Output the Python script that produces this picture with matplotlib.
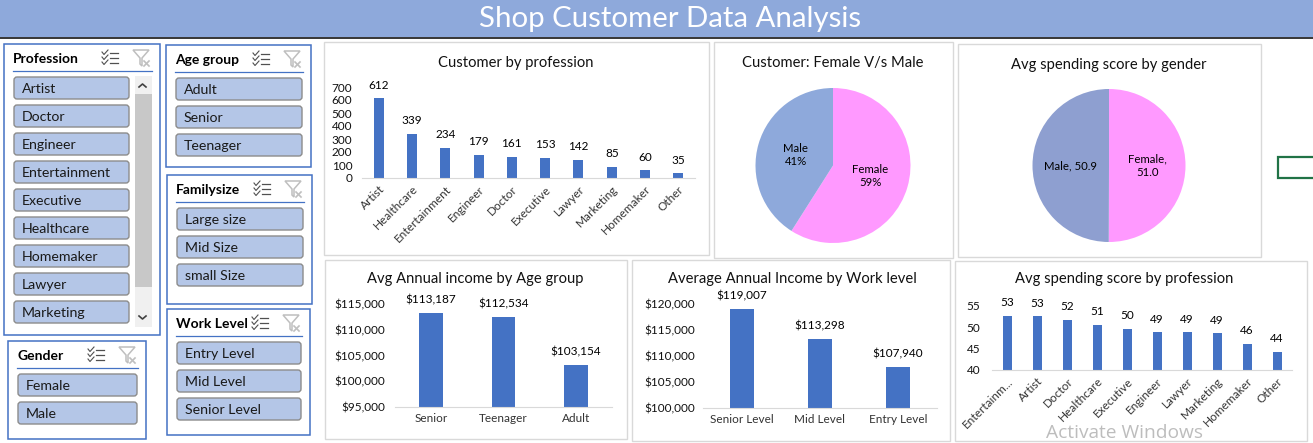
import matplotlib
matplotlib.use("Agg")
import matplotlib.pyplot as plt
from matplotlib.patches import Rectangle, FancyBboxPatch, Polygon

plt.rcParams['font.family'] = ['Lato', 'DejaVu Sans']

# ---- data ----
prof_count_labels = ["Artist", "Healthcare", "Entertainment", "Engineer", "Doctor", "Executive",
                     "Lawyer", "Marketing", "Homemaker", "Other"]
prof_count_values = [612, 339, 234, 179, 161, 153, 142, 85, 60, 35]
gender_labels = ["Female", "Male"]
gender_share = [59, 41]
gender_spend = [51.0, 50.9]
age_labels = ["Senior", "Teenager", "Adult"]
age_income = [113187, 112534, 103154]
work_labels = ["Senior Level", "Mid Level", "Entry Level"]
work_income = [119007, 113298, 107940]
prof_spend_labels = ["Entertainm...", "Artist", "Doctor", "Healthcare", "Executive", "Engineer",
                     "Lawyer", "Marketing", "Homemaker", "Other"]
prof_spend_values = [52.7, 52.6, 51.8, 50.6, 49.7, 48.8, 48.8, 48.6, 46.2, 44.3]

slicer_profession = ["Artist", "Doctor", "Engineer", "Entertainment", "Executive", "Healthcare",
                     "Homemaker", "Lawyer", "Marketing"]
slicer_age = ["Adult", "Senior", "Teenager"]
slicer_family = ["Large size", "Mid Size", "small Size"]
slicer_work = ["Entry Level", "Mid Level", "Senior Level"]
slicer_gender = ["Female", "Male"]

W, H = 1313, 443
BLUE = "#4472C4"
fig = plt.figure(figsize=(W / 100, H / 100), dpi=100, facecolor="white")

bg = fig.add_axes([0, 0, 1, 1], zorder=0)
bg.set_xlim(0, W)
bg.set_ylim(H, 0)
bg.axis("off")


def axpx(x0, y0, x1, y1):
    return fig.add_axes([x0 / W, 1 - y1 / H, (x1 - x0) / W, (y1 - y0) / H], zorder=2)


# header
bg.add_patch(Rectangle((0, 0), W, 37, fc="#8EA9DB", ec="none"))
bg.plot([0, W], [37.5, 37.5], color="black", lw=1.1)
bg.text(670, 19, "Shop Customer Data Analysis", color="white", fontsize=21.2,
        ha="center", va="center")

# chart panels
for x0, y0, x1, y1 in [(324, 42, 709, 255), (714, 42, 953, 258), (958, 44, 1261, 257),
                       (325, 260, 627, 439), (632, 260, 950, 441), (955, 261, 1307, 441)]:
    bg.add_patch(Rectangle((x0, y0), x1 - x0, y1 - y0, fc="white", ec="#D9D9D9", lw=1))

# selection rectangle
bg.add_patch(Rectangle((1278, 157), 60, 21, fc="white", ec="#217346", lw=1.6))


def icons(x, y):
    for i in range(3):
        yy = y + i * 5
        bg.plot([x + 8, x + 16], [yy, yy], color="#505050", lw=0.9)
        bg.plot([x, x + 2, x + 6], [yy - 1, yy + 1.5, yy - 3], color="#505050", lw=0.8)
    fx = x + 31
    bg.add_patch(Polygon([(fx, y - 3), (fx + 16, y - 3), (fx + 9, y + 5), (fx + 9, y + 13),
                          (fx + 7, y + 11), (fx + 7, y + 5)],
                         closed=True, fc="white", ec="#BFBFBF", lw=1.1))
    bg.plot([fx + 11, fx + 16], [y + 8, y + 13], color="#BFBFBF", lw=1.2)
    bg.plot([fx + 16, fx + 11], [y + 8, y + 13], color="#BFBFBF", lw=1.2)


def slicer(box, title, items, left, right, first_y, icon_x):
    x0, y0, x1, y1 = box
    bg.add_patch(Rectangle((x0, y0), x1 - x0, y1 - y0, fc="white", ec=BLUE, lw=1.1))
    bg.text(left, first_y - 17, title, fontsize=10, fontweight="bold", color="black",
            ha="left", va="center")
    bg.plot([left, box[2] - 8], [first_y - 5, first_y - 5], color=BLUE, lw=0.9)
    icons(icon_x, first_y - 23)
    for i, name in enumerate(items):
        top = first_y + i * 28
        bg.add_patch(FancyBboxPatch((left + 1, top + 1), right - left - 2, 22,
                                    boxstyle="round,pad=0,rounding_size=3",
                                    fc="#B4C6E7", ec="#8C8C8C", lw=1))
        bg.text(left + 9, top + 13, name, fontsize=10.2, color="#1a1a1a", ha="left", va="center")


slicer((4, 44, 160, 335), "Profession", slicer_profession, 13, 130, 76, 102)
slicer((166, 45, 311, 167), "Age group", slicer_age, 175, 303, 77, 253)
slicer((167, 175, 312, 304), "Familysize", slicer_family, 176, 304, 207, 254)
slicer((167, 309, 310, 435), "Work Level", slicer_work, 176, 302, 341, 252)
slicer((8, 341, 146, 439), "Gender", slicer_gender, 17, 138, 373, 88)

# scrollbar of the profession slicer
bg.add_patch(Rectangle((135, 76), 17, 251, fc="#F0F0F0", ec="none"))
bg.add_patch(Rectangle((135, 94), 17, 193, fc="#C8C8C8", ec="none"))
bg.plot([139, 142.5, 146], [87, 84, 87], color="#404040", lw=1.2)
bg.plot([139, 142.5, 146], [316, 319, 316], color="#404040", lw=1.2)


def bars(ax, labels, values, ylim, ticks, fmt, width, rotate=False, lab_fs=8.5, ypad=7):
    xs = list(range(len(labels)))
    ax.bar(xs, values, width=width, color=BLUE)
    ax.set_xlim(-0.5, len(labels) - 0.5)
    ax.set_ylim(*ylim)
    ax.set_yticks(ticks)
    ax.set_yticklabels([fmt(t) for t in ticks], fontsize=lab_fs, color="#111111")
    ax.set_xticks(xs)
    if rotate:
        ax.set_xticklabels(labels, rotation=45, ha="right", rotation_mode="anchor",
                           fontsize=lab_fs, color="#333333")
    else:
        ax.set_xticklabels(labels, fontsize=lab_fs, color="#333333")
    ax.tick_params(axis="x", length=0, pad=4)
    ax.tick_params(axis="y", length=0, pad=ypad)
    for s in ["top", "left", "right"]:
        ax.spines[s].set_visible(False)
    ax.spines["bottom"].set_color("#D9D9D9")
    ax.patch.set_alpha(0)
    for x, v in zip(xs, values):
        ax.annotate(fmt(v), (x, v), xytext=(0, 9.5), textcoords="offset points",
                    ha="center", va="center", fontsize=lab_fs, color="black",
                    annotation_clip=False)


TS = 10.6
a1 = axpx(362, 87, 695, 178)
bars(a1, prof_count_labels, prof_count_values, (0, 700), list(range(0, 701, 100)),
     lambda v: f"{v:d}", 0.3, rotate=True, ypad=7)
bg.text(516, 62.5, "Customer by profession", fontsize=TS, ha="center", va="center", color="#111111")

a4 = axpx(395, 304, 612, 407)
bars(a4, age_labels, age_income, (95000, 115000), list(range(95000, 115001, 5000)),
     lambda v: f"${v:,.0f}", 0.33, ypad=7)
bg.text(475, 279.5, "Avg Annual income by Age group", fontsize=TS, ha="center", va="center", color="#111111")

a5 = axpx(703, 304, 937, 408)
bars(a5, work_labels, work_income, (100000, 120000), list(range(100000, 120001, 5000)),
     lambda v: f"${v:,.0f}", 0.31, ypad=6)
bg.text(792, 279.5, "Average Annual Income by Work level", fontsize=TS, ha="center", va="center", color="#111111")

a6 = axpx(992, 306, 1292, 370)
bars(a6, prof_spend_labels, prof_spend_values, (40, 55), [40, 45, 50, 55],
     lambda v: f"{v:.0f}", 0.3, rotate=True, ypad=8.5)
bg.text(1124, 279.5, "Avg spending score by profession", fontsize=TS, ha="center", va="center", color="#111111")


def pie(cx, cy, r, values, labels, colors):
    ax = axpx(cx - r, cy - r, cx + r, cy + r)
    wedges, texts = ax.pie(values, labels=labels, colors=colors, startangle=90, counterclock=False,
                           labeldistance=0.5, textprops={"fontsize": 8.2, "color": "black"})
    for t in texts:
        t.set_ha("center")
        t.set_linespacing(1.25)
    ax.set_xlim(-1, 1)
    ax.set_ylim(-1, 1)


pie(833, 165.5, 77.5, gender_share,
    [f"{n}\n{v}%" for n, v in zip(gender_labels, gender_share)], ["#FF99FF", "#8EA9DB"])
bg.text(833, 62.5, "Customer: Female V/s Male", fontsize=TS, ha="center", va="center", color="#111111")

pie(1109, 165.5, 76.5, gender_spend,
    [f"{gender_labels[0]},\n{gender_spend[0]:.1f}", f"{gender_labels[1]}, {gender_spend[1]:.1f}"],
    ["#FF99FF", "#8E9FD0"])
bg.text(1109, 64.5, "Avg spending score by gender", fontsize=TS, ha="center", va="center", color="#111111")

fig.text(1124.5 / W, 1 - 433 / H, "Activate Windows", fontsize=13.8, family="Open Sans",
         color="#BDBDBD", ha="center", va="center", zorder=5)

fig.savefig("out.png", dpi=100)
